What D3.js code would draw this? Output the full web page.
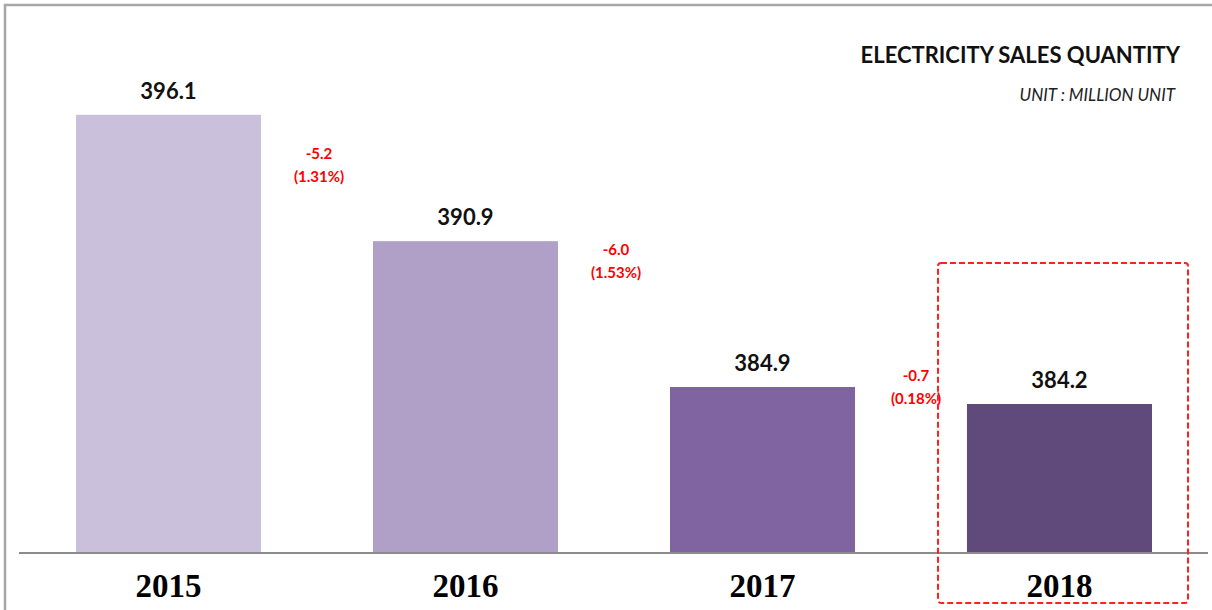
<!DOCTYPE html>
<html>
<head>
<meta charset="utf-8">
<script src="https://cdn.jsdelivr.net/npm/d3@7"></script>
<style>
  body { margin: 0; background: #fff; }
  svg { display: block; }
</style>
</head>
<body>
<div id="chart"></div>
<script>
var years = ["2015", "2016", "2017", "2018"];
var sales = [396.1, 390.9, 384.9, 384.2];
var changes = ["-5.2", "-6.0", "-0.7"];
var changePct = ["(1.31%)", "(1.53%)", "(0.18%)"];
var barColors = ["#cbc0db", "#b09fc7", "#8064a2", "#604a7b"];

var svgWidth = 1212;
var svgHeight = 610;
var baseline = 553;

var svg = d3.select("#chart")
    .append("svg")
    .attr("width", svgWidth)
    .attr("height", svgHeight);

// frame (top and left edges only)
svg.append("path")
    .attr("d", "M5,610 V5 H1212")
    .attr("fill", "none")
    .attr("stroke", "#a6a6a6")
    .attr("stroke-width", 2.5);

// scales - value axis is truncated like the original
var x = d3.scaleBand()
    .domain(years)
    .range([20, 1208])
    .paddingInner(0.377)
    .paddingOuter(0.1885);

var y = d3.scaleLinear()
    .domain([378.07, 400])
    .range([baseline, 20]);

// bars
svg.selectAll("rect.bar")
    .data(years)
    .enter()
    .append("rect")
    .attr("class", "bar")
    .attr("x", d => x(d))
    .attr("width", x.bandwidth())
    .attr("y", (d, i) => y(sales[i]))
    .attr("height", (d, i) => baseline - y(sales[i]))
    .attr("fill", (d, i) => barColors[i]);

// baseline axis
var bottomAxis = d3.axisBottom(x).tickSize(0).tickPadding(21);
var axisG = svg.append("g")
    .attr("transform", `translate(0, ${baseline})`)
    .call(bottomAxis);
axisG.select(".domain")
    .attr("d", "M19,0H1208")
    .attr("stroke", "#8c8c8c")
    .attr("stroke-width", 2);
axisG.selectAll(".tick text")
    .attr("fill", "#000")
    .attr("font-family", "'Liberation Serif', serif")
    .attr("font-weight", "bold")
    .attr("font-size", "33px");

// value labels
svg.selectAll("text.val")
    .data(years)
    .enter()
    .append("text")
    .attr("class", "val")
    .attr("x", d => x(d) + x.bandwidth() / 2)
    .attr("y", (d, i) => y(sales[i]) - 16)
    .attr("text-anchor", "middle")
    .attr("font-family", "Lato, 'Open Sans', sans-serif")
    .attr("font-weight", "bold")
    .attr("font-size", "22px")
    .attr("fill", "#111")
    .text((d, i) => sales[i].toFixed(1));

// change annotations in the gaps between bars
var gapLabelY = [159, 255, 381];
changes.forEach(function(c, i) {
    var left = x(years[i]) + x.bandwidth();
    var right = x(years[i + 1]);
    var cx = (left + right) / 2 + (i === 2 ? 5 : 2);
    var t = svg.append("text")
        .attr("x", cx)
        .attr("y", gapLabelY[i])
        .attr("text-anchor", "middle")
        .attr("font-family", "Lato, 'Open Sans', sans-serif")
        .attr("font-size", "15px")
        .attr("font-weight", "bold")
        .attr("fill", "#ff0000");
    t.append("tspan").attr("x", cx).text(c);
    t.append("tspan").attr("x", cx).attr("dy", "1.5em").text(changePct[i]);
});

// dashed highlight around latest year
var last = years[years.length - 1];
svg.append("rect")
    .attr("x", x(last) - 29)
    .attr("y", 263)
    .attr("width", x.bandwidth() + 65)
    .attr("height", 340)
    .attr("rx", 3)
    .attr("fill", "none")
    .attr("stroke", "#ff2020")
    .attr("stroke-width", 2)
    .attr("stroke-dasharray", "6,3");

// title and unit
svg.append("text")
    .attr("x", 1180)
    .attr("y", 63)
    .attr("text-anchor", "end")
    .attr("font-family", "Lato, 'Open Sans', sans-serif")
    .attr("font-weight", "bold")
    .attr("font-size", "22px")
    .attr("fill", "#111")
    .text("ELECTRICITY SALES QUANTITY");

svg.append("text")
    .attr("x", 1175)
    .attr("y", 101)
    .attr("text-anchor", "end")
    .attr("font-family", "Lato, 'Open Sans', sans-serif")
    .attr("font-style", "italic")
    .attr("font-size", "17px")
    .attr("fill", "#222")
    .text("UNIT : MILLION UNIT");
</script>
</body>
</html>
